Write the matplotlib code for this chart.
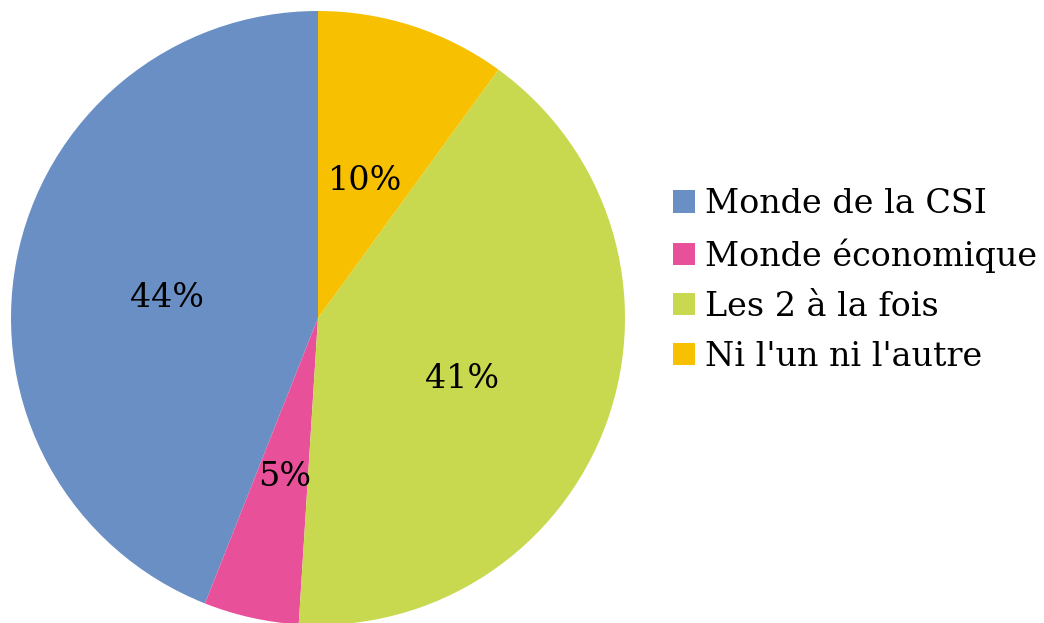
import matplotlib.pyplot as plt

labels = ["Monde de la CSI", "Monde économique", "Les 2 à la fois", "Ni l'un ni l'autre"]
values = [44, 5, 41, 10]
colors = ["#6a8fc4", "#e9509a", "#c9d94f", "#f7c000"]

plt.rcParams['font.family'] = ['DejaVu Serif']

fig = plt.figure(figsize=(10.44, 6.23), dpi=100)
# pie centre (318, 318) px from top-left, radius about 307 px
r = 307
ax = fig.add_axes([(318 - r) / 1044, (623 - 318 - r) / 623, 2 * r / 1044, 2 * r / 623])

wedges, texts, autotexts = ax.pie(
    values, colors=colors, startangle=90, counterclock=True,
    autopct="%d%%", pctdistance=0.5, radius=1.0,
    wedgeprops=dict(linewidth=0),
    textprops=dict(fontsize=24, color="black"))
# the reference labels sit a few pixels lower than the pie's own placement
for t in autotexts:
    x, y = t.get_position()
    t.set_position((x, y - 0.03))
ax.set_xlim(-1, 1)
ax.set_ylim(-1, 1)
ax.set_aspect("equal")

fig.legend(wedges, labels, loc="center left", bbox_to_anchor=(0.629, 0.55),
           frameon=False, fontsize=24, handlelength=0.66, handleheight=0.66,
           handletextpad=0.3, labelspacing=0.54, borderpad=0)

fig.savefig("out.png", dpi=100)
